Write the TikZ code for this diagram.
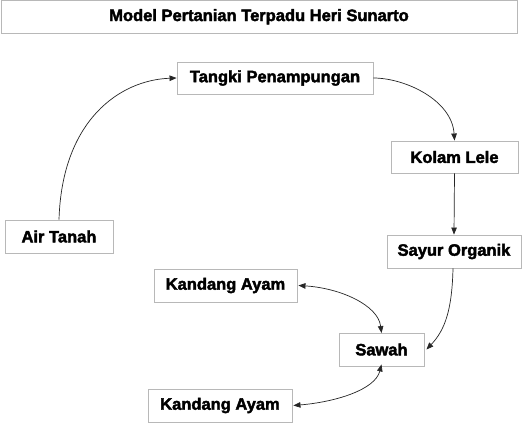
\documentclass[tikz,border=0pt]{standalone}
\usepackage{fontspec}
\setmainfont{Liberation Sans}
\newfontfamily\heavyfont{Liberation Sans Bold}[FakeBold=2.4]
\usetikzlibrary{arrows.meta}
\begin{document}
\begin{tikzpicture}[x=1pt,y=-1pt,
  box/.style={draw=black!28,line width=0.9pt,inner sep=0pt,
    font=\heavyfont\fontsize{16.5}{20}\selectfont,text=black},
  conn/.style={draw=black!85,line width=0.7pt,-{Triangle[length=7pt,width=5.5pt]}},
  bconn/.style={draw=black!85,line width=0.7pt,{Triangle[length=7pt,width=5.5pt]}-{Triangle[length=7pt,width=5.5pt]}}]
\useasboundingbox[fill=white] (0,0) rectangle (527,423);
\node[box,minimum width=516pt,minimum height=32.5pt] (title) at (259,16.75) {Model Pertanian Terpadu Heri Sunarto};
\node[box,minimum width=196pt,minimum height=32pt] (tangki) at (275,78) {Tangki Penampungan};
\node[box,minimum width=127pt,minimum height=32pt] (kolam) at (454.5,157) {Kolam Lele};
\node[box,minimum width=134pt,minimum height=33pt] (sayur) at (454,251.5) {Sayur Organik};
\node[box,minimum width=108pt,minimum height=33pt] (air) at (59,236.5) {Air Tanah};
\node[box,minimum width=143pt,minimum height=33pt] (kand1) at (225.5,285.5) {Kandang Ayam};
\node[box,minimum width=85pt,minimum height=33pt] (sawah) at (381.5,349.5) {Sawah};
\node[box,minimum width=144pt,minimum height=33pt] (kand2) at (220,405.5) {Kandang Ayam};
\draw[conn] (air.north) .. controls (62,120) and (120,80) .. (tangki.west);
\draw[conn] (tangki.east) .. controls (405,78) and (452,100) .. (kolam.north);
\draw[conn] (kolam.south) -- (sayur.north);
\draw[conn] ([xshift=-1pt]sayur.south) .. controls (452,310) and (445,330) .. ([xshift=2pt]sawah.east);
\draw[bconn] ([xshift=1pt]kand1.east) .. controls (340,288) and (378,305) .. ([yshift=-0.5pt]sawah.north);
\draw[bconn] ([xshift=1pt]kand2.east) .. controls (335,402) and (375,390) .. ([yshift=2pt]sawah.south);
\end{tikzpicture}
\end{document}
